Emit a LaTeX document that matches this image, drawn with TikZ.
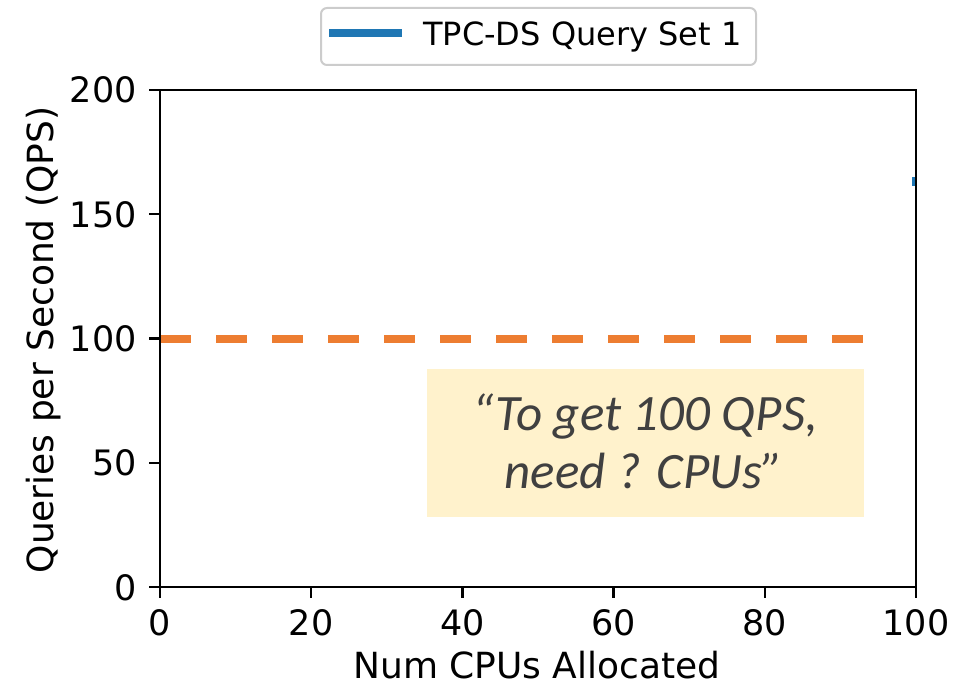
\documentclass[tikz,border=0pt]{standalone}
\usepackage{fontspec}
\setmainfont{DejaVu Sans}
\newfontfamily\notefont{Carlito}
\definecolor{mplblue}{HTML}{1F77B4}
\definecolor{dashorange}{HTML}{ED7D31}
\definecolor{noteyellow}{HTML}{FFF2CC}
\definecolor{notegray}{HTML}{404040}
\definecolor{framegray}{HTML}{CCCCCC}
\begin{document}
\begin{tikzpicture}[x=1pt,y=-1pt,
  spine/.style={line width=2.6pt, line cap=rect},
  tickmark/.style={line width=2.4pt},
  ticklabel/.style={font=\fontsize{35}{42}\selectfont, inner sep=0pt},
  axislabel/.style={font=\fontsize{36}{43}\selectfont, inner sep=0pt},
  legendframe/.style={draw=framegray, line width=2pt, rounded corners=6pt, fill=white},
  legendtext/.style={font=\fontsize{32}{38}\selectfont, inner sep=0pt, anchor=base west},
  notebox/.style={fill=noteyellow, inner sep=0pt, minimum width=437pt, minimum height=148pt},
  notetext/.style={font=\notefont\itshape\fontsize{51}{58}\selectfont, text=notegray, inner sep=0pt, anchor=base}]
\useasboundingbox (0,0) rectangle (954,687);

% axes corners
\coordinate (ll) at (160,587);
\coordinate (ur) at (916,90);

% clipped end of the blue data line at the right spine
\fill[mplblue] (912,177) rectangle (916,186);

% y ticks and labels (0..200 step 50)
\foreach \v in {0,50,100,150,200}{
  \pgfmathsetmacro{\yy}{587-2.485*\v}
  \draw[tickmark] (149,\yy) -- (160,\yy);
  \node[ticklabel, anchor=base east] (ylab\v) at (137,\yy+13) {\v};
}
% x ticks and labels (0..100 step 20)
\foreach \v in {0,20,40,60,80,100}{
  \pgfmathsetmacro{\xx}{160+7.56*\v}
  \draw[tickmark] (\xx,587) -- (\xx,598);
  \node[ticklabel, anchor=base] (xlab\v) at (\xx,635) {\v};
}

% target line at 100 QPS
\coordinate (tstart) at (160,339);
\coordinate (tend) at (863,339);
\draw[dashorange, line width=8pt, dash pattern=on 31pt off 25pt] (tstart) -- (tend);

% spines
\draw[spine] (ll) rectangle (ur);

% axis titles
\node[axislabel, anchor=base] (xtitle) at (537,678) {Num CPUs Allocated};
\node[axislabel, anchor=base, rotate=90] (ytitle) at (53,340) {Queries per Second (QPS)};

% legend
\node[legendframe, minimum width=435pt, minimum height=57pt, anchor=north west, inner sep=0pt] (legend) at (320,7) {};
\coordinate (lgA) at (329,33);
\coordinate (lgB) at (402,33);
\draw[mplblue, line width=8pt] (lgA) -- (lgB);
\node[legendtext] (legtxt) at (423,46) {TPC-DS Query Set 1};

% annotation box
\node[notebox] (note) at (645.5,443) {};
\node[notetext] (noteA) at (645,430) {“To get 100 QPS,};
\node[notetext] (noteB) at (644,488) {need ? CPUs”};
\end{tikzpicture}
\end{document}
